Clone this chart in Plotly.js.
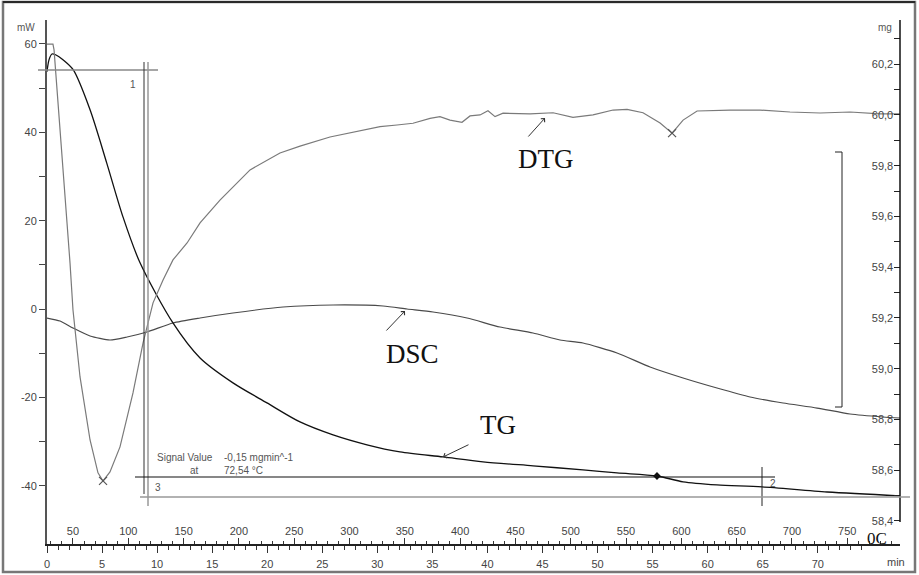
<!DOCTYPE html>
<html>
<head>
<meta charset="utf-8">
<script src="https://cdn.plot.ly/plotly-3.0.1.min.js"></script>
<style>
  body { margin: 0; background: #fff; }
  #chart { width: 919px; height: 575px; }
</style>
</head>
<body>
<div id="chart"></div>
<script>
// DTG (mg/min) vs time (min)
const dtgTime = [0, 0.54, 0.64, 0.73, 1.18, 1.63, 2.09, 2.36, 3.00, 3.91, 4.63, 5.09, 5.72, 6.63, 7.81, 8.72,
  9.63, 10.54, 11.44, 12.72, 13.90, 15.71, 18.44, 21.16, 22.98, 25.70, 27.52, 30.25, 31.79, 33.24, 34.79,
  35.69, 36.60, 37.69, 38.42, 39.33, 40.05, 40.69, 41.42, 43.87, 45.96, 47.77, 49.59, 51.41, 52.68, 54.13,
  55.68, 56.77, 57.77, 59.04, 62.03, 64.76, 67.48, 70.21, 72.93, 75.66, 77.47];
const dtgValue = [0.0281, 0.0281, 0.0257, 0.0204, -0.0069, -0.0342, -0.0611, -0.0803, -0.1076, -0.1333,
  -0.1467, -0.1500, -0.1463, -0.1361, -0.1141, -0.0938, -0.0774, -0.0681, -0.0599, -0.0530, -0.0448,
  -0.0355, -0.0232, -0.0163, -0.0135, -0.0098, -0.0082, -0.0056, -0.0049, -0.0042, -0.0022, -0.0015,
  -0.0029, -0.0038, -0.0012, -0.0008, 0.0009, -0.0015, -0.0001, -0.0004, 0.0001, -0.0018, -0.0008,
  0.0012, 0.0015, 0.0001, -0.0041, -0.0082, -0.0029, 0.0008, 0.0012, 0.0012, 0.0004, 0, 0.0004,
  -0.0004, -0.0004];

// DSC (mW) vs time (min)
const dscTime = [0, 1.18, 2.36, 3.91, 5.72, 7.27, 9.08, 11.44, 13.90, 16.89, 21.44, 25.98, 30.52, 32.70,
  35.06, 38.15, 41.14, 44.14, 46.59, 48.68, 51.77, 54.77, 57.77, 60.85, 63.85, 66.85, 69.94, 72.93,
  75.93, 77.47];
const dscValue = [-2.04, -2.72, -4.30, -6.11, -7.02, -6.34, -5.21, -3.17, -2.04, -0.91, 0.45, 0.91, 0.68,
  0, -0.68, -2.04, -4.08, -5.43, -7.02, -7.70, -9.96, -13.13, -15.62, -17.89, -19.92, -21.28, -22.42,
  -23.77, -24.45, -24.68];

// TG (mg) vs time (min)
const tgTime = [0, 0.18, 0.45, 0.82, 1.45, 2.39, 3.91, 5.42, 6.90, 8.45, 11.44, 13.90, 16.89,
  19.98, 22.98, 25.98, 29.06, 32.06, 35.97, 39.60, 44.14, 48.68, 51.77, 55.40, 57.77, 60.85, 64.94,
  70.85, 77.47];
const tgValue = [60.170, 60.217, 60.240, 60.236, 60.217, 60.177, 60.020, 59.811, 59.598, 59.417,
  59.180, 59.042, 58.944, 58.865, 58.790, 58.739, 58.700, 58.672, 58.652, 58.633, 58.617, 58.601,
  58.589, 58.577, 58.554, 58.542, 58.534, 58.514, 58.499];

// tick labels
const mwTicks = [-50, -40, -30, -20, -10, 0, 10, 20, 30, 40, 50, 60];
const mwLabels = ['', '-40', '', '-20', '', '0', '', '20', '', '40', '', '60'];
const mgTicks = [58.4, 58.5, 58.6, 58.7, 58.8, 58.9, 59.0, 59.1, 59.2, 59.3, 59.4, 59.5, 59.6, 59.7,
  59.8, 59.9, 60.0, 60.1, 60.2, 60.3];
const mgLabels = ['58,4', '', '58,6', '', '58,8', '', '59,0', '', '59,2', '', '59,4', '', '59,6', '',
  '59,8', '', '60,0', '', '60,2', ''];

// plot box in pixels, helpers to place decorations
const L = 47, T = 20, W = 853, H = 524;
const xp = px => (px - L) / W;
const yp = py => (T + H - py) / H;

const tickFont = { family: 'Liberation Sans, Arial, sans-serif', size: 11, color: '#444' };
const serif = { family: 'Liberation Serif, Times New Roman, serif', size: 27, color: '#111' };
const small = { family: 'Liberation Sans, Arial, sans-serif', size: 10, color: '#555' };

// minimum of DTG and the later dip
const iMin = dtgValue.indexOf(Math.min(...dtgValue));
let iDip = -1;
dtgTime.forEach((t, i) => { if (t > 50 && (iDip < 0 || dtgValue[i] < dtgValue[iDip])) iDip = i; });
const iStep = tgTime.indexOf(55.40);

const traces = [
  { x: dtgTime, y: dtgValue, type: 'scatter', mode: 'lines', yaxis: 'y3',
    line: { color: '#7a7a7a', width: 1.2 }, hoverinfo: 'skip' },
  { x: dscTime, y: dscValue, type: 'scatter', mode: 'lines', yaxis: 'y',
    line: { color: '#4a4a4a', width: 1.2, shape: 'spline', smoothing: 0.6 }, hoverinfo: 'skip' },
  { x: tgTime, y: tgValue, type: 'scatter', mode: 'lines', yaxis: 'y2',
    line: { color: '#111', width: 1.3, shape: 'spline', smoothing: 0.8 }, hoverinfo: 'skip' },
  { x: [dtgTime[iMin], dtgTime[iDip]], y: [dtgValue[iMin], dtgValue[iDip]], type: 'scatter', mode: 'markers',
    yaxis: 'y3', marker: { symbol: 'x-thin-open', size: 8, color: '#555', line: { color: '#555', width: 1.2 } } },
  { x: [tgTime[iStep]], y: [tgValue[iStep]], type: 'scatter', mode: 'markers', yaxis: 'y2',
    marker: { symbol: 'diamond', size: 6, color: '#111' } }
];

function seg(x0, y0, x1, y1, color, width) {
  return { type: 'line', xref: 'paper', yref: 'paper', x0: xp(x0), y0: yp(y0), x1: xp(x1), y1: yp(y1),
    line: { color: color, width: width } };
}

const shapes = [
  { type: 'rect', xref: 'paper', yref: 'paper', x0: xp(3), x1: xp(915), y0: yp(572), y1: yp(2),
    line: { color: '#777', width: 2.5 } },
  seg(3, 2, 915, 2, '#111', 1.5),               // top edge of frame
  seg(900, 20, 900, 522, '#111', 1.5),          // right axis line
  seg(38, 70, 158, 70, '#888', 1.5),            // cursor 1
  seg(148, 62, 148, 506, '#999', 1.5),
  seg(144, 62, 144, 494, '#333', 1),
  seg(135, 477, 775, 477, '#111', 1.2),         // cursor 2
  seg(762, 467, 762, 506, '#222', 1),
  seg(140, 497, 910, 497, '#999', 1.5),         // cursor 3
  seg(835, 152, 842, 152, '#222', 1),           // bracket
  seg(842, 152, 842, 407, '#222', 1),
  seg(835, 407, 842, 407, '#222', 1)
];

function txt(text, x, y, font, anchor) {
  return { text: text, xref: 'paper', yref: 'paper', x: xp(x), y: yp(y), showarrow: false,
    xanchor: anchor || 'center', yanchor: 'middle', font: font };
}
function arrow(hx, hy, tx, ty) {
  return { text: '', xref: 'paper', yref: 'paper', x: xp(hx), y: yp(hy), ax: tx - hx, ay: ty - hy,
    showarrow: true, arrowhead: 4, arrowsize: 1, arrowwidth: 1, arrowcolor: '#333' };
}

const annotations = [
  txt('mW', 26, 27, small),
  txt('mg', 885, 27, small),
  txt('min', 896, 562, tickFont),
  txt('0C', 877, 538, { family: serif.family, size: 17, color: '#111' }),
  txt('1', 133, 84, small),
  txt('2', 773, 483, small),
  txt('3', 158, 487, small),
  txt('DTG', 546, 159, serif),
  txt('DSC', 412, 354, serif),
  txt('TG', 498, 425, serif),
  arrow(545, 118, 527, 138),
  arrow(405, 311, 385, 332),
  arrow(443, 457, 470, 444),
  txt('Signal Value', 155, 457, small, 'left'),
  txt('-0,15 mgmin^-1', 222, 457, small, 'left'),
  txt('at', 188, 470, small, 'left'),
  txt('72,54 °C', 222, 470, small, 'left')
];

const layout = {
  width: 919, height: 575,
  margin: { l: L, r: 919 - L - W, t: T, b: 575 - T - H },
  paper_bgcolor: '#fff', plot_bgcolor: '#fff',
  showlegend: false,
  xaxis: {
    range: [0, 77.47], tick0: 0, dtick: 5, ticks: 'outside', ticklen: 7, tickcolor: '#333',
    minor: { dtick: 1, tick0: 0, ticks: 'outside', ticklen: 4, tickcolor: '#333' },
    showline: true, linecolor: '#222', linewidth: 1.5, showgrid: false, zeroline: false,
    tickfont: tickFont, ticklabelstandoff: 2
  },
  xaxis2: {
    overlaying: 'x', anchor: 'y', side: 'bottom', range: [26.5, 797.7], tick0: 0, dtick: 50,
    ticks: 'inside', ticklen: 6, tickcolor: '#333', ticklabelposition: 'inside',
    minor: { dtick: 10, tick0: 0, ticks: 'inside', ticklen: 3, tickcolor: '#333' },
    showline: false, showgrid: false, zeroline: false, tickfont: tickFont
  },
  yaxis: {
    range: [-53.2, 65.43], tickmode: 'array', tickvals: mwTicks, ticktext: mwLabels,
    ticks: 'outside', ticklen: 6, tickcolor: '#444', showline: true, linecolor: '#555', linewidth: 2,
    showgrid: false, zeroline: false, tickfont: tickFont
  },
  yaxis2: {
    overlaying: 'y', anchor: 'x', side: 'right', range: [58.309, 60.374], tickmode: 'array',
    tickvals: mgTicks, ticktext: mgLabels, ticks: 'inside', ticklen: 6, tickcolor: '#222',
    ticklabelposition: 'inside', showline: false, showgrid: false, zeroline: false, tickfont: tickFont
  },
  yaxis3: {
    overlaying: 'y', anchor: 'x', range: [-0.1757, 0.0379], visible: false
  },
  shapes: shapes,
  annotations: annotations
};

// x2 needs a trace to be drawn
traces.push({ x: [26.5], y: [0], xaxis: 'x2', yaxis: 'y', type: 'scatter', mode: 'markers',
  marker: { opacity: 0 }, hoverinfo: 'skip' });

Plotly.newPlot('chart', traces, layout, { staticPlot: true, displayModeBar: false });
</script>
</body>
</html>
